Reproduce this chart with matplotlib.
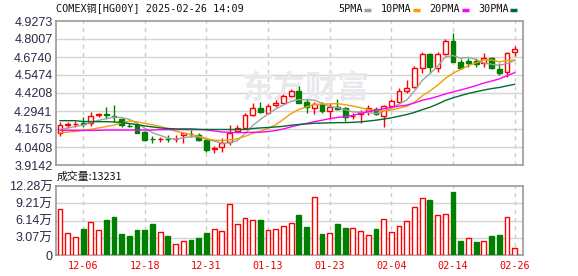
import numpy as np
import pandas as pd
import matplotlib
matplotlib.use('Agg')
import matplotlib.pyplot as plt
from matplotlib.lines import Line2D

W, H = 578, 276

# trading days shown (MM-DD)
dates = ['12-03', '12-04', '12-05', '12-06', '12-09', '12-10', '12-11', '12-12', '12-13', '12-16',
         '12-17', '12-18', '12-19', '12-20', '12-23', '12-24', '12-26', '12-27', '12-30', '12-31',
         '01-02', '01-03', '01-06', '01-07', '01-08', '01-09', '01-10', '01-13', '01-14', '01-15',
         '01-16', '01-17', '01-20', '01-21', '01-22', '01-23', '01-24', '01-27', '01-28', '01-29',
         '01-30', '01-31', '02-03', '02-04', '02-05', '02-06', '02-07', '02-10', '02-11', '02-12',
         '02-13', '02-14', '02-17', '02-18', '02-19', '02-20', '02-21', '02-24', '02-25', '02-26']

opens = [4.142, 4.198, 4.200, 4.208, 4.212, 4.268, 4.273, 4.261, 4.236, 4.192,
         4.196, 4.148, 4.097, 4.094, 4.099, 4.097, 4.125, 4.133, 4.125, 4.090,
         4.030, 4.039, 4.078, 4.153, 4.177, 4.266, 4.313, 4.282, 4.334, 4.353,
         4.402, 4.437, 4.360, 4.317, 4.341, 4.296, 4.324, 4.313, 4.257, 4.271,
         4.296, 4.310, 4.261, 4.329, 4.360, 4.435, 4.465, 4.594, 4.695, 4.599,
         4.695, 4.787, 4.641, 4.648, 4.646, 4.634, 4.665, 4.587, 4.566, 4.711]
highs = [4.219, 4.219, 4.226, 4.250, 4.289, 4.282, 4.324, 4.336, 4.247, 4.212,
         4.208, 4.150, 4.118, 4.109, 4.125, 4.125, 4.148, 4.160, 4.137, 4.095,
         4.050, 4.102, 4.196, 4.196, 4.278, 4.353, 4.355, 4.343, 4.372, 4.414,
         4.449, 4.470, 4.376, 4.360, 4.360, 4.348, 4.379, 4.320, 4.278, 4.301,
         4.336, 4.320, 4.336, 4.376, 4.454, 4.512, 4.613, 4.711, 4.700, 4.711,
         4.798, 4.845, 4.658, 4.665, 4.665, 4.700, 4.672, 4.630, 4.711, 4.751]
lows = [4.118, 4.172, 4.179, 4.179, 4.188, 4.254, 4.236, 4.219, 4.184, 4.184,
        4.137, 4.085, 4.071, 4.074, 4.078, 4.078, 4.071, 4.113, 4.085, 4.008,
        4.001, 4.008, 4.055, 4.148, 4.172, 4.259, 4.278, 4.278, 4.320, 4.348,
        4.395, 4.348, 4.278, 4.273, 4.278, 4.236, 4.301, 4.226, 4.236, 4.208,
        4.266, 4.266, 4.184, 4.313, 4.348, 4.419, 4.458, 4.559, 4.559, 4.571,
        4.688, 4.637, 4.594, 4.606, 4.606, 4.606, 4.587, 4.547, 4.531, 4.683]
closes = [4.198, 4.200, 4.201, 4.206, 4.259, 4.275, 4.264, 4.250, 4.196, 4.189,
          4.141, 4.090, 4.095, 4.097, 4.096, 4.100, 4.141, 4.130, 4.090, 4.018,
          4.032, 4.068, 4.137, 4.172, 4.266, 4.313, 4.285, 4.329, 4.353, 4.402,
          4.437, 4.353, 4.320, 4.341, 4.294, 4.324, 4.310, 4.250, 4.259, 4.285,
          4.313, 4.273, 4.329, 4.365, 4.435, 4.454, 4.594, 4.695, 4.602, 4.695,
          4.787, 4.641, 4.599, 4.634, 4.622, 4.665, 4.594, 4.559, 4.700, 4.730]

volumes = [82000, 39700, 32600, 45600, 59200, 45000, 61500, 66800, 36700, 33000,
           43800, 43800, 55000, 41500, 33000, 19000, 25500, 26000, 29600, 40000,
           46800, 42500, 90000, 55600, 66300, 62800, 63000, 45000, 46800, 52000,
           57700, 72000, 49000, 104000, 36700, 38500, 54400, 47300, 48500, 43200,
           36300, 45500, 64500, 41500, 52000, 61000, 85800, 102000, 97000, 71600,
           73400, 113000, 24300, 30800, 22500, 25500, 33000, 35000, 68000, 13231]
vol_up = [1, 1, 1, 0, 1, 1, 0, 0, 0, 0, 0, 0, 0, 1, 0, 1, 1, 0, 0, 0,
          1, 1, 1, 1, 1, 1, 0, 1, 1, 1, 1, 0, 0, 1, 0, 1, 0, 0, 1, 1,
          1, 0, 1, 1, 1, 1, 1, 1, 0, 1, 1, 0, 0, 1, 0, 1, 0, 0, 1, 1]

# moving average values before enough bars are on screen
ma5_head = [4.165, 4.175, 4.185, 4.195]
ma10_head = [4.140, 4.145, 4.150, 4.158, 4.165, 4.175, 4.185, 4.195, 4.210]
ma20_head = [4.158, 4.158, 4.158, 4.158, 4.158, 4.158, 4.160, 4.160, 4.160, 4.160,
             4.160, 4.160, 4.160, 4.163, 4.163, 4.163, 4.163, 4.163, 4.163]
ma30_head = [4.226, 4.226, 4.226, 4.220, 4.220, 4.219, 4.219, 4.217, 4.213, 4.206,
             4.199, 4.189, 4.182, 4.175, 4.171, 4.168, 4.168, 4.168, 4.165, 4.164,
             4.164, 4.164, 4.164, 4.164, 4.164, 4.171, 4.175, 4.178, 4.182]

price_ticks = [3.9142, 4.0408, 4.1675, 4.2941, 4.4208, 4.5474, 4.6740, 4.8007, 4.9273]
price_tick_labels = ['3.9142', '4.0408', '4.1675', '4.2941', '4.4208',
                     '4.5474', '4.6740', '4.8007', '4.9273']
vol_ticks = [0, 30700, 61400, 92100, 122800]
vol_tick_labels = ['0', '3.07万', '6.14万', '9.21万', '12.28万']

ma_names = ['5PMA', '10PMA', '20PMA', '30PMA']
ma_windows = [5, 10, 20, 30]
ma_heads = [ma5_head, ma10_head, ma20_head, ma30_head]
ma_colors = ['#a0a0a0', '#f0a000', '#ff00ff', '#006a30']

title = 'COMEX铜[HG00Y] 2025-02-26 14:09'

RED = '#ff0000'
GREEN = '#008000'
GRID = '#d4d4d4'
BORDER = '#999999'
LABEL = '#2a2a4a'


def px(x, y):
    return x / W, 1 - y / H


def style_axes(ax):
    for s in ax.spines.values():
        s.set_color(BORDER)
        s.set_linewidth(1.2)
    ax.tick_params(length=0, pad=2.5, labelsize=9, labelcolor=LABEL)
    for lab in ax.get_yticklabels():
        lab.set_family(['Liberation Sans', 'Noto Sans CJK SC'])


n = len(closes)
x = np.arange(n)
o = np.array(opens)
c = np.array(closes)
up = c >= o
date_pos = list(range(3, n, 8))

fig = plt.figure(figsize=(W / 100, H / 100), dpi=100)
ax1 = fig.add_axes([56 / W, 1 - 165 / H, 466.5 / W, 144 / H])
ax2 = fig.add_axes([56 / W, 1 - 255 / H, 466.5 / W, 69 / H])

# ---- price panel
for t in price_ticks[1:-1]:
    ax1.axhline(t, color=GRID, lw=1, zorder=0)
for p in date_pos:
    ax1.axvline(p, color='#cccccc', lw=1, ls=(0, (3, 3)), zorder=0)

ax1.text(23.5, 4.445, '东方财富', fontsize=23, fontweight='bold', color='#e9e9ed',
         family='Noto Sans CJK SC', va='center', ha='left', zorder=0.5)

wick_cols = [RED if u else GREEN for u in up]
ax1.vlines(x, lows, highs, colors=wick_cols, lw=1, zorder=2)
body_bottom = np.minimum(o, c)
body_h = np.maximum(np.abs(c - o), 0.0015)
ax1.bar(x, body_h, bottom=body_bottom, width=0.62,
        color=['white' if u else GREEN for u in up],
        edgecolor=wick_cols, lw=1, zorder=3)

cs = pd.Series(closes)
for w, head, col in zip(ma_windows, ma_heads, ma_colors):
    ma = cs.rolling(w).mean().to_numpy()
    ma[:w - 1] = head
    ax1.plot(x, ma, color=col, lw=1, zorder=4)

ax1.set_xlim(-0.52, n + 0.02)
ax1.set_ylim(price_ticks[0], price_ticks[-1])
ax1.set_yticks(price_ticks)
ax1.set_yticklabels(price_tick_labels)
ax1.set_xticks([])
style_axes(ax1)

# ---- volume panel
for t in vol_ticks[1:-1]:
    ax2.axhline(t, color=GRID, lw=1, zorder=0)
for p in date_pos:
    ax2.axvline(p, color='#cccccc', lw=1, ls=(0, (3, 3)), zorder=0)

ax2.bar(x, volumes, width=0.62,
        color=['white' if u else GREEN for u in vol_up],
        edgecolor=[RED if u else GREEN for u in vol_up], lw=1, zorder=3)
ax2.set_xlim(-0.52, n + 0.02)
ax2.set_ylim(0, vol_ticks[-1])
ax2.set_yticks(vol_ticks)
ax2.set_yticklabels(vol_tick_labels)
ax2.set_xticks(date_pos)
ax2.set_xticklabels([dates[p] for p in date_pos])
style_axes(ax2)
ax2.tick_params(axis='x', pad=4.5, labelsize=7.3, labelcolor='#ee0000')
for lab in ax2.get_xticklabels():
    lab.set_family('DejaVu Sans Mono')

# ---- header texts
fig.text(*px(56, 9), title, fontsize=7.3, color='#111111', va='center', ha='left',
         family=['DejaVu Sans Mono', 'Noto Sans CJK SC'])

lx = 338
for name, col in zip(ma_names, ma_colors):
    fig.text(*px(lx, 9), name, fontsize=7.3, color='#111111', va='center', ha='left',
             family='DejaVu Sans Mono')
    bx = lx + len(name) * 6.05 + 2
    fig.add_artist(Line2D([bx / W, (bx + 7) / W], [1 - 9.5 / H, 1 - 9.5 / H],
                          color=col, lw=2.5, solid_capstyle='butt'))
    lx = bx + 7 + 9.5

fig.text(*px(57, 177), '成交量:%d' % volumes[-1], fontsize=7.8, color='#111111',
         va='center', ha='left', family=['Noto Sans CJK SC', 'DejaVu Sans'])

fig.savefig('out.png', dpi=100)
